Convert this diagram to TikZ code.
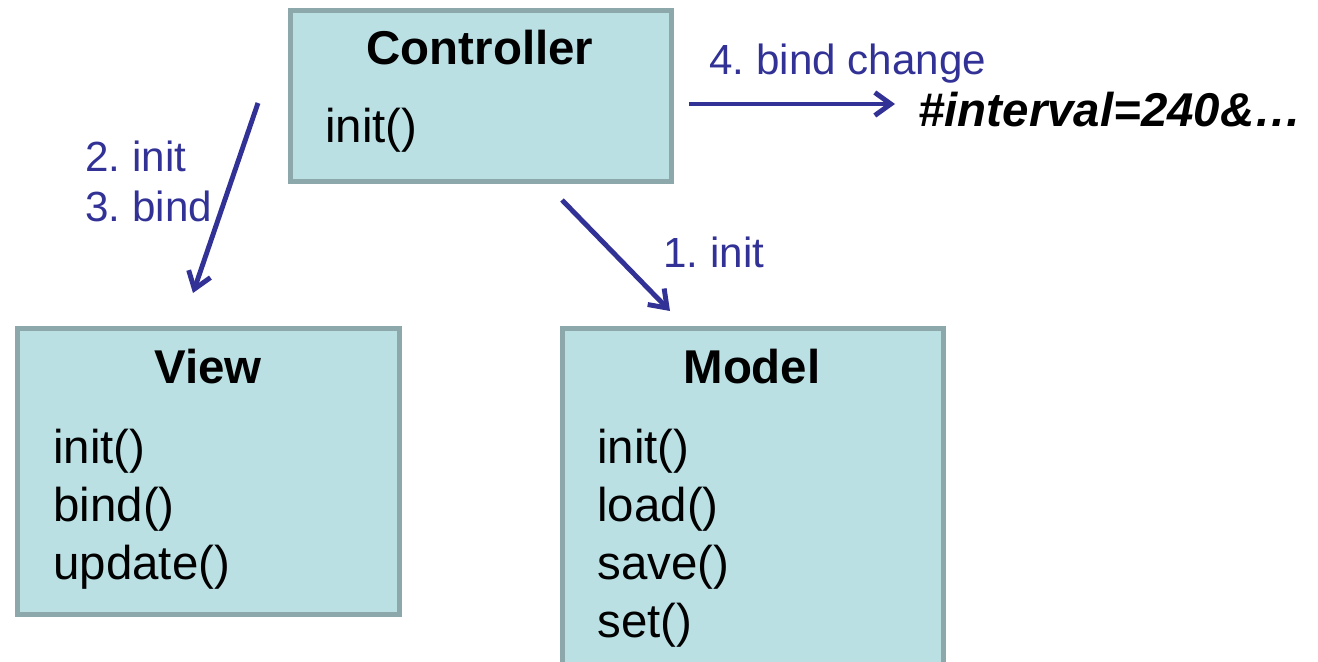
\documentclass[tikz,border=0pt]{standalone}
\usepackage{fontspec}
\setmainfont{Liberation Sans}
\usepackage{tikz}
\usetikzlibrary{arrows.meta}
\definecolor{cbox}{RGB}{186,224,228}
\definecolor{cborder}{RGB}{140,168,170}
\definecolor{cblue}{RGB}{50,50,150}
\frenchspacing

\begin{document}
\begin{tikzpicture}[x=0.02cm,y=-0.02cm,>={Straight Barb[length=0.32cm,width=0.46cm]},
  class node/.style={rectangle,fill=cbox,draw=cborder,line width=2.8pt,inner sep=0pt},
  title node/.style={anchor=base,inner sep=0pt,font=\fontsize{27}{32}\selectfont\bfseries},
  method node/.style={anchor=base west,inner sep=0pt,font=\fontsize{27}{32}\selectfont},
  step node/.style={anchor=base west,inner sep=0pt,text=cblue,font=\fontsize{24}{29}\selectfont},
  step arrow/.style={->,draw=cblue,line width=2.8pt}]
  \useasboundingbox (0,0) rectangle (1318,662);

  % boxes
  \node[class node,minimum width=7.62cm,minimum height=3.42cm] (ctrl) at (481,96) {};
  \node[class node,minimum width=7.64cm,minimum height=5.72cm] (view) at (208.5,471.5) {};
  \node[class node,minimum width=7.62cm,minimum height=7.43cm] (model) at (753,514) {};

  \node[title node] (ctrl title) at (480,65) {Controller};
  \node[method node] (ctrl init) at (325,143) {init()};

  \node[title node] (view title) at (208,383) {View};
  \node[method node] (view init) at (53,463) {init()};
  \node[method node] (view bind) at (53,521) {bind()};
  \node[method node] (view update) at (53,579) {update()};

  \node[title node] (model title) at (752,383) {Model};
  \node[method node] (model init) at (597,463) {init()};
  \node[method node] (model load) at (597,521) {load()};
  \node[method node] (model save) at (597,579) {save()};
  \node[method node] (model set) at (597,637) {set()};

  % steps
  \coordinate (a1) at (562,200);
  \coordinate (b1) at (670,311);
  \coordinate (a2) at (258,103);
  \coordinate (b2) at (193,293);
  \coordinate (a4) at (689,104);
  \coordinate (b4) at (895,104);

  \node[step node] (s1) at (663,267) {1. init};
  \node[step node] (s2) at (85,172) {2. init};
  \node[step node] (s3) at (85,222) {3. bind};
  \node[step node] (s4) at (709,75) {4. bind change};
  \node[anchor=base west,inner sep=0pt,font=\fontsize{27}{32}\selectfont\bfseries\itshape] (hash) at (918,127) {\#interval=240\&…};

  \draw[step arrow] (a1) -- (b1);
  \draw[step arrow] (a2) -- (b2);
  \draw[step arrow] (a4) -- (b4);
\end{tikzpicture}
\end{document}
